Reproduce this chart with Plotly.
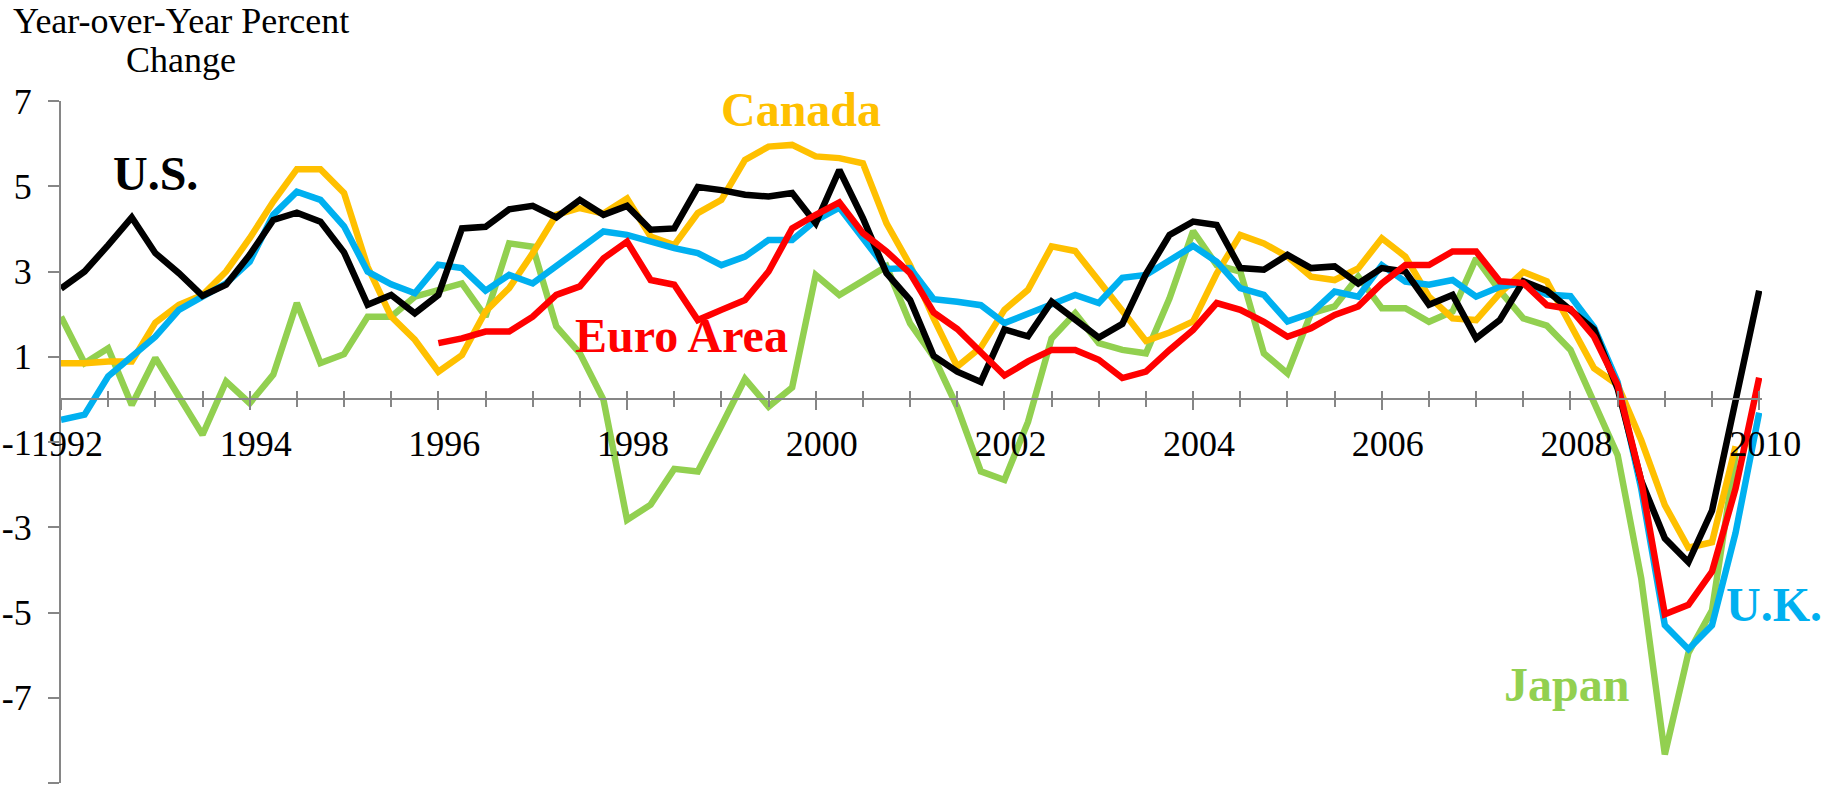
import plotly.graph_objects as go

# Quarterly, 1992Q1 .. 2010Q1
quarters = [f"{y}Q{q}" for y in range(1992, 2011) for q in range(1, 5)][:73]
xpos = [int(s[:4]) + (int(s[-1]) - 1) / 4 for s in quarters]

us = [2.6, 3.0, 3.62, 4.27, 3.43, 2.96, 2.43, 2.69, 3.39, 4.21, 4.38, 4.17,
      3.45, 2.22, 2.45, 2.02, 2.45, 4.01, 4.05, 4.46, 4.54, 4.27, 4.68, 4.33,
      4.54, 3.98, 4.01, 4.98, 4.91, 4.80, 4.76, 4.84, 4.13, 5.38, 4.25, 2.96,
      2.33, 1.02, 0.65, 0.41, 1.64, 1.48, 2.29, 1.88, 1.45, 1.77, 2.94, 3.86,
      4.17, 4.09, 3.08, 3.04, 3.39, 3.08, 3.12, 2.72, 3.08, 3.0, 2.22, 2.45,
      1.43, 1.86, 2.77, 2.55, 2.08, 1.64, 0.25, -1.91, -3.26, -3.82, -2.61, -0.01,
      2.55]
canada = [0.85, 0.85, 0.89, 0.89, 1.8, 2.22, 2.45, 3.0, 3.78, 4.64, 5.4, 5.4,
          4.84, 3.11, 1.94, 1.40, 0.65, 1.04, 2.06, 2.61, 3.43, 4.33, 4.49, 4.36,
          4.71, 3.82, 3.62, 4.37, 4.68, 5.62, 5.93, 5.97, 5.70, 5.66, 5.54, 4.13,
          3.15, 1.90, 0.77, 1.22, 2.10, 2.57, 3.59, 3.48, 2.78, 2.07, 1.37, 1.57,
          1.83, 2.95, 3.86, 3.66, 3.35, 2.88, 2.80, 3.07, 3.78, 3.35, 2.41, 1.90,
          1.86, 2.49, 2.99, 2.77, 1.77, 0.73, 0.34, -0.96, -2.48, -3.48, -3.35, -1.1,
          None]
uk = [-0.48, -0.36, 0.54, 1.0, 1.47, 2.1, 2.41, 2.72, 3.23, 4.33, 4.87, 4.68,
      4.06, 3.0, 2.70, 2.49, 3.16, 3.08, 2.55, 2.92, 2.72, 3.14, 3.52, 3.94,
      3.86, 3.70, 3.55, 3.43, 3.15, 3.35, 3.74, 3.74, 4.2, 4.5, 3.8, 3.06,
      3.08, 2.35, 2.29, 2.21, 1.79, 2.0, 2.24, 2.45, 2.26, 2.85, 2.92, 3.28,
      3.6, 3.23, 2.61, 2.45, 1.83, 2.02, 2.53, 2.41, 3.15, 2.76, 2.69, 2.80,
      2.41, 2.64, 2.73, 2.46, 2.42, 1.69, 0.4, -2.1, -5.3, -5.86, -5.3, -3.13,
      -0.31]
euro = [None] * 16 + [
    1.32, 1.43, 1.59, 1.59, 1.94, 2.45, 2.65, 3.31,
    3.70, 2.80, 2.69, 1.86, 2.10, 2.33, 3.0, 4.01, 4.33, 4.62, 3.90, 3.47,
    2.96, 2.04, 1.65, 1.08, 0.56, 0.89, 1.16, 1.16, 0.93, 0.50, 0.65, 1.16,
    1.63, 2.26, 2.10, 1.82, 1.47, 1.67, 1.98, 2.18, 2.72, 3.15, 3.15, 3.47,
    3.47, 2.77, 2.73, 2.21, 2.12, 1.47, 0.34, -1.91, -5.04, -4.82, -4.04, -2.09,
    0.51]
japan = [1.94, 0.85, 1.2, -0.13, 0.97, 0.07, -0.83, 0.42, -0.09, 0.58, 2.26, 0.85,
         1.06, 1.94, 1.94, 2.41, 2.57, 2.72, 1.94, 3.66, 3.58, 1.71, 1.08, -0.01,
         -2.83, -2.47, -1.63, -1.69, -0.62, 0.48, -0.17, 0.28, 2.92, 2.45, 2.78, 3.12,
         1.78, 1.0, -0.18, -1.69, -1.89, -0.53, 1.43, 2.02, 1.32, 1.16, 1.08, 2.37,
         3.95, 3.15, 3.0, 1.08, 0.61, 2.02, 2.18, 2.88, 2.14, 2.14, 1.82, 2.06,
         3.31, 2.55, 1.90, 1.73, 1.16, -0.05, -1.31, -4.2, -8.33, -5.95, -4.95, -1.3,
         None]

ytickvals = [-9, -7, -5, -3, -1, 1, 3, 5, 7]
yticktext = ["-9", "-7", "-5", "-3", "-1", "1", "3", "5", "7"]
xtickvals = [1992, 1994, 1996, 1998, 2000, 2002, 2004, 2006, 2008, 2010]
xticktext = [str(v) for v in xtickvals]

series = [
    ("Japan", japan, "#92D050"),
    ("Canada", canada, "#FFC000"),
    ("U.K.", uk, "#00B0F0"),
    ("U.S.", us, "#000000"),
    ("Euro Area", euro, "#FF0000"),
]

# (text, paper x, data y, colour, x anchor)
labels = [
    ("U.S.", 0.0558, 5.31, "#000000", "center"),
    ("Canada", 0.435, 6.81, "#FFC000", "center"),
    ("Euro Area", 0.365, 1.51, "#FF0000", "center"),
    ("U.K.", 1.0365, -4.82, "#00B0F0", "right"),
    ("Japan", 0.8853, -6.70, "#92D050", "center"),
]

FONT = "Liberation Serif"
GRAY = "#868686"

fig = go.Figure()
for name, vals, col in series:
    fig.add_trace(go.Scatter(x=xpos, y=vals, mode="lines", name=name,
                             line=dict(color=col, width=6.5),
                             connectgaps=False, hoverinfo="x+y+name"))
# helper empty trace for the overlay tick axis
fig.add_trace(go.Scatter(x=[None], y=[None], xaxis="x2", showlegend=False,
                         hoverinfo="skip"))

for txt, xp, yv, col, xa in labels:
    fig.add_annotation(text=f"<b>{txt}</b>", xref="paper", yref="y", x=xp, y=yv,
                       showarrow=False, xanchor=xa, yanchor="middle",
                       font=dict(family=FONT, size=48, color=col))

fig.add_annotation(text="Year-over-Year Percent", xref="paper", yref="paper",
                   x=0.0705, y=1.118, showarrow=False, xanchor="center",
                   yanchor="middle", font=dict(family=FONT, size=36, color="black"))
fig.add_annotation(text="Change", xref="paper", yref="paper",
                   x=0.0705, y=1.060, showarrow=False, xanchor="center",
                   yanchor="middle", font=dict(family=FONT, size=36, color="black"))

xr = [1992, 2010.03]
fig.update_layout(
    template="none",
    width=1826, height=799,
    margin=dict(l=61, r=64, t=101, b=16, pad=0),
    paper_bgcolor="white", plot_bgcolor="white",
    showlegend=False,
    xaxis=dict(range=xr, anchor="free", position=9 / 16, showgrid=False,
               zeroline=False, showline=True, linecolor=GRAY, linewidth=2,
               tickmode="array", tickvals=xtickvals, ticktext=xticktext,
               ticks="outside", ticklen=10, tickwidth=2, tickcolor=GRAY,
               minor=dict(dtick=0.5, tick0=1992, ticks="outside", ticklen=7,
                          tickwidth=2, tickcolor=GRAY, showgrid=False),
               tickfont=dict(family=FONT, size=36, color="black"),
               ticklabelstandoff=2, ticklabelshift=6, automargin=False),
    xaxis2=dict(range=xr, overlaying="x", anchor="free", position=9 / 16,
                showgrid=False, zeroline=False, showline=False,
                tickmode="linear", tick0=1992, dtick=0.5,
                ticks="inside", ticklen=8, tickwidth=2, tickcolor=GRAY,
                showticklabels=False, automargin=False),
    yaxis=dict(range=[-9, 7], showgrid=False, zeroline=False, showline=True,
               linecolor=GRAY, linewidth=2, tickmode="array",
               tickvals=ytickvals, ticktext=yticktext, ticks="outside",
               ticklen=11, tickwidth=2, tickcolor=GRAY,
               tickfont=dict(family=FONT, size=36, color="black"),
               ticklabelstandoff=9, automargin=False),
)

fig.write_html("out.html",
               config={"displayModeBar": False},
               post_script="document.body.style.margin='0';"
                           "document.body.style.overflow='hidden';")
